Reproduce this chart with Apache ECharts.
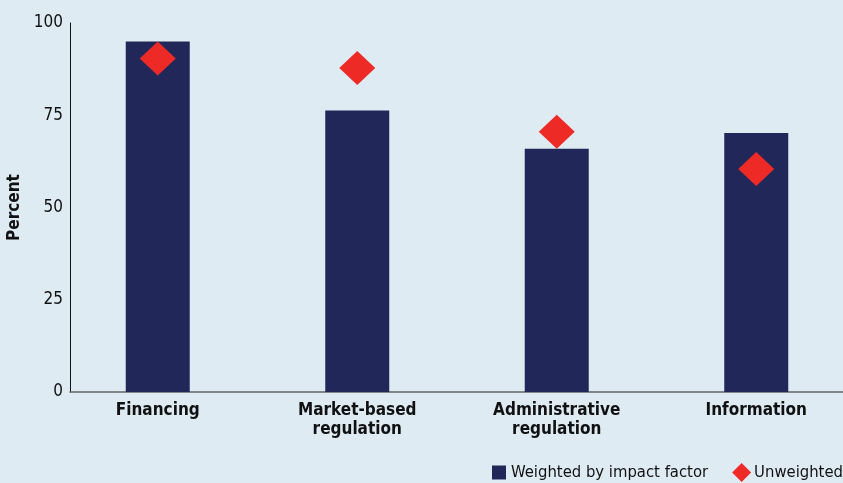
<!DOCTYPE html>
<html><head><meta charset="utf-8">
<script src="https://cdn.jsdelivr.net/npm/echarts@6/dist/echarts.min.js"></script>
<style>html,body{margin:0;padding:0;background:#deebf3;}#c{width:843px;height:483px;}</style>
</head><body><div id="c"></div>
<script>
const categories = ['Financing', 'Market-based\nregulation', 'Administrative\nregulation', 'Information'];
const weighted = [95, 76.3, 65.9, 70.2];
const unweighted = [90.4, 87.8, 70.5, 60.4];
const yTicks = [0, 25, 50, 75, 100];

const FONT = '"DejaVu Sans"';
const STY = 'condensed';
const chart = echarts.init(document.getElementById('c'));
chart.setOption({
  backgroundColor: '#deebf3',
  animation: false,
  textStyle: { fontFamily: FONT },
  grid: [
    { left: 58, width: 798, top: 23, bottom: 91, outerBoundsMode: 'none', containLabel: false },
    { left: 70, right: 0, top: 23, bottom: 91, outerBoundsMode: 'none', containLabel: false }
  ],
  legend: {
    bottom: -4, right: -5,
    itemWidth: 19, itemHeight: 19, itemGap: 24,
    textStyle: { fontFamily: FONT, fontStyle: STY, fontSize: 16.5, color: '#111', padding: [0, 0, 0, -2] },
    data: [
      { name: 'Weighted by impact factor', icon: 'path://M0,0M3,2.5L17,2.5L17,16.5L3,16.5Z M19,19' },
      { name: 'Unweighted', icon: 'diamond' }
    ]
  },
  xAxis: [
    {
      type: 'category', data: categories, gridIndex: 0,
      axisLine: { show: false }, axisTick: { show: false },
      axisLabel: { color: '#111', fontFamily: FONT, fontStyle: STY, fontWeight: 'bold', fontSize: 17, lineHeight: 19, margin: 9 }
    },
    {
      type: 'value', gridIndex: 1, min: 0, max: 1,
      axisLine: { show: true, lineStyle: { color: '#666', width: 1.5 } },
      axisTick: { show: false }, axisLabel: { show: false }, splitLine: { show: false }
    }
  ],
  yAxis: [
    {
      type: 'value', gridIndex: 0, min: 0, max: 100, interval: 25, show: false
    },
    {
      type: 'value', gridIndex: 1, min: yTicks[0], max: yTicks[yTicks.length - 1], interval: 25,
      name: 'Percent', nameLocation: 'middle', nameGap: 40,
      nameTextStyle: { fontFamily: FONT, fontStyle: STY, fontWeight: 'bold', fontSize: 17, color: '#111' },
      axisLine: { show: true, onZero: false, lineStyle: { color: '#111', width: 1 } },
      axisTick: { show: false }, splitLine: { show: false },
      axisLabel: { color: '#111', fontFamily: FONT, fontStyle: STY, fontSize: 17, margin: 7 }
    }
  ],
  series: [
    {
      name: 'Weighted by impact factor', type: 'bar', data: weighted,
      xAxisIndex: 0, yAxisIndex: 0, barWidth: 64,
      itemStyle: { color: '#212859' }
    },
    {
      name: 'Unweighted', type: 'scatter', data: unweighted,
      xAxisIndex: 0, yAxisIndex: 0, symbol: 'diamond', symbolSize: [36, 34],
      itemStyle: { color: '#ee2a26', opacity: 1 }, z: 5
    }
  ]
});
</script></body></html>
